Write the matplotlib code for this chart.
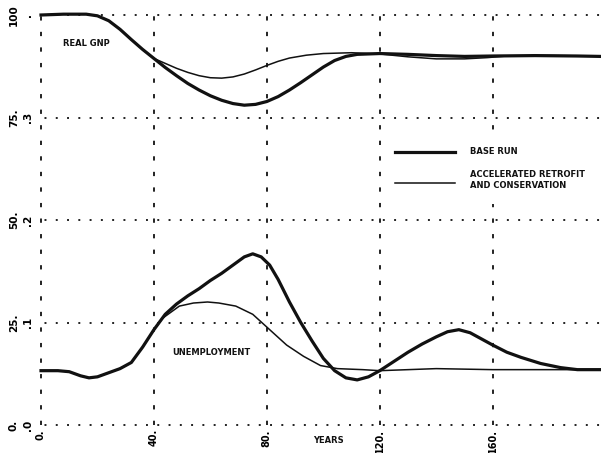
import matplotlib
matplotlib.use("Agg")
import matplotlib.pyplot as plt
import matplotlib.patches as patches

# --- data --------------------------------------------------------------
years_gnp_base = [0, 8, 16, 20, 24, 28, 32, 36, 40, 44, 48, 52, 56, 60, 64, 68,
                  72, 76, 80, 84, 88, 92, 96, 100, 104, 108, 112, 120, 130, 140,
                  150, 160, 175, 190, 198]
gnp_base = [100.0, 100.2, 100.2, 99.8, 98.6, 96.5, 94.0, 91.6, 89.4, 87.2, 85.2,
            83.3, 81.7, 80.3, 79.2, 78.4, 78.0, 78.2, 78.9, 80.1, 81.7, 83.5,
            85.4, 87.3, 88.9, 89.9, 90.4, 90.6, 90.4, 90.1, 89.9, 90.0, 90.1,
            90.0, 89.9]

years_gnp_acc = [0, 8, 16, 20, 24, 28, 32, 36, 40, 44, 48, 52, 56, 60, 64, 68,
                 72, 76, 80, 84, 88, 94, 100, 110, 120, 130, 140, 150, 158, 165,
                 180, 198]
gnp_acc = [100.0, 100.2, 100.2, 99.8, 98.6, 96.5, 94.0, 91.6, 89.4, 88.2, 87.0,
           86.0, 85.2, 84.7, 84.6, 84.9, 85.6, 86.6, 87.7, 88.7, 89.5, 90.2,
           90.6, 90.8, 90.5, 89.8, 89.3, 89.3, 89.6, 90.0, 90.1, 90.0]

years_unemp_base = [0, 6, 10, 14, 17, 20, 24, 28, 32, 36, 40, 44, 48, 52, 56, 60,
                    64, 68, 72, 75, 78, 81, 84, 88, 92, 96, 100, 104, 108, 112,
                    116, 120, 125, 130, 135, 140, 144, 148, 152, 156, 160, 165,
                    170, 177, 184, 190, 198]
unemp_base = [0.053, 0.053, 0.052, 0.048, 0.046, 0.047, 0.051, 0.055, 0.061,
              0.076, 0.093, 0.108, 0.118, 0.126, 0.133, 0.141, 0.148, 0.156,
              0.164, 0.167, 0.164, 0.156, 0.142, 0.120, 0.100, 0.082, 0.065,
              0.053, 0.046, 0.044, 0.047, 0.053, 0.062, 0.071, 0.079, 0.086,
              0.091, 0.093, 0.090, 0.084, 0.078, 0.071, 0.066, 0.060, 0.056,
              0.054, 0.054]

years_unemp_acc = [0, 6, 10, 14, 17, 20, 24, 28, 32, 36, 40, 43, 46, 49, 54, 59,
                   63, 69, 75, 81, 87, 93, 99, 105, 114, 120, 140, 160, 180, 198]
unemp_acc = [0.053, 0.053, 0.052, 0.048, 0.046, 0.047, 0.051, 0.055, 0.061,
             0.076, 0.093, 0.104, 0.110, 0.116, 0.119, 0.120, 0.119, 0.116,
             0.108, 0.093, 0.078, 0.067, 0.058, 0.055, 0.054, 0.053, 0.055,
             0.054, 0.054, 0.054]

x_ticks = [0, 40, 80, 120, 160]
x_labels = ["0.", "40.", "80.", "120.", "160."]
gnp_ticks = [0, 25, 50, 75, 100]
gnp_labels = ["0.", "25.", "50.", "75.", "100"]
unemp_ticks = [0.0, 0.1, 0.2, 0.3, 0.4]
unemp_labels = [".0", ".1", ".2", ".3", "."]

FONT = ["Liberation Sans Narrow", "DejaVu Sans"]
INK = "#111111"
GRID = "#222222"

fig = plt.figure(figsize=(6.01, 4.53), dpi=100)
ax = fig.add_axes([41 / 601, 28 / 453, 559 / 601, 410 / 453])
ax2 = ax.twinx()

for a in (ax, ax2):
    for s in a.spines.values():
        s.set_visible(False)
    a.tick_params(length=0)

ax.set_xlim(0, 198)
ax.set_ylim(0, 100)
ax2.set_ylim(0, 0.4)

# grid: short dashes for verticals, dots for horizontals
for xv in x_ticks:
    ax.axvline(xv, color=GRID, lw=1.4, ls=(0, (2.2, 5.8)), clip_on=False,
               dash_capstyle="butt", zorder=1)
for yv in gnp_ticks:
    ax.axhline(yv, color=GRID, lw=1.4, ls=(4, (1.0, 4.8)), clip_on=False,
               dash_capstyle="butt", zorder=1)

ax.plot(years_gnp_base, gnp_base, color=INK, lw=2.3, clip_on=False, zorder=3)
ax.plot(years_gnp_acc, gnp_acc, color=INK, lw=1.1, clip_on=False, zorder=3)
ax2.plot(years_unemp_base, unemp_base, color=INK, lw=2.3, clip_on=False, zorder=3)
ax2.plot(years_unemp_acc, unemp_acc, color=INK, lw=1.1, clip_on=False, zorder=3)

ax.set_xticks(x_ticks)
ax.set_xticklabels(x_labels, rotation=90, va="top", fontsize=7,
                   fontweight="bold", family=FONT)
ax.tick_params(axis="x", pad=3)

ax.set_yticks(gnp_ticks)
ax.set_yticklabels(gnp_labels, rotation=90, va="center", fontsize=7.5,
                   fontweight="bold", family=FONT)
ax.tick_params(axis="y", pad=16)

ax2.yaxis.tick_left()
ax2.set_yticks(unemp_ticks)
ax2.set_yticklabels(unemp_labels, rotation=90, va="center", fontsize=7.5,
                    fontweight="bold", family=FONT)
ax2.tick_params(axis="y", pad=6)

# annotations
txt = dict(fontsize=6, fontweight="bold", family=FONT, color=INK)
ax.text(7.8, 93, "REAL GNP", va="center", ha="left", **txt)
ax.text(46.4, 17.7, "UNEMPLOYMENT", va="center", ha="left", **txt)
ax.text(96.3, -3.9, "YEARS", va="center", ha="left", **txt)

# legend drawn by hand, on a white patch that hides the grid behind it
ax.add_patch(patches.Rectangle((124, 54), 74, 18, facecolor="white",
                               edgecolor="none", zorder=2))
ax.plot([125.3, 146.6], [66.6, 66.6], color=INK, lw=2.3, zorder=3)
ax.plot([125.3, 146.6], [59.0, 59.0], color=INK, lw=1.1, zorder=3)
ax.text(151.9, 66.6, "BASE RUN", va="center", ha="left", zorder=4, **txt)
ax.text(151.9, 59.8, "ACCELERATED RETROFIT\nAND CONSERVATION", va="center",
        ha="left", linespacing=1.3, zorder=4, **txt)

fig.savefig("out.png", dpi=100)
